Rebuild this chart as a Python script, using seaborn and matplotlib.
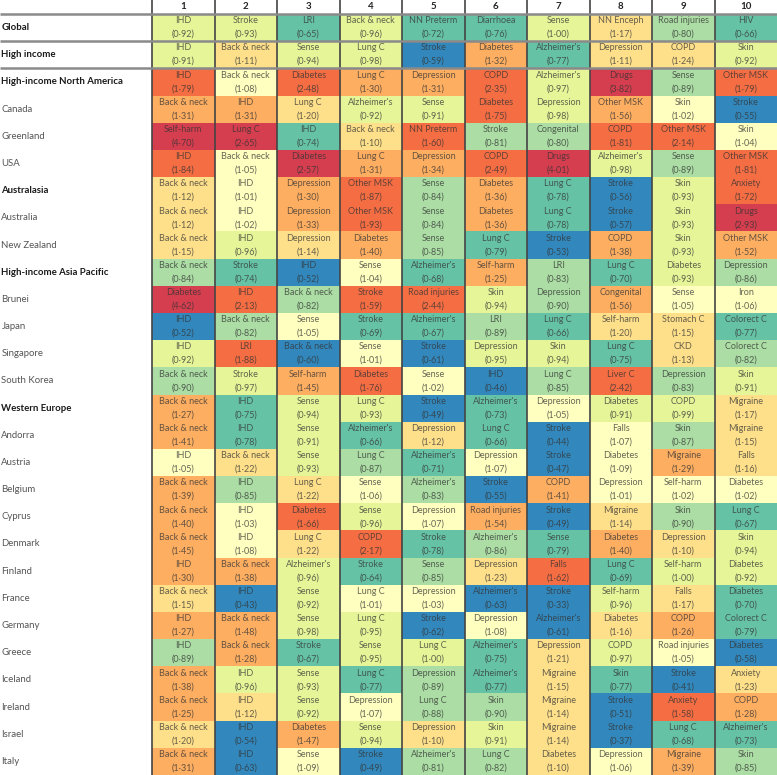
import numpy as np
import pandas as pd
import seaborn as sns
import matplotlib.pyplot as plt
from matplotlib.colors import ListedColormap, BoundaryNorm

locations = [
    "Global", "High income", "High-income North America", "Canada", "Greenland", "USA",
    "Australasia", "Australia", "New Zealand", "High-income Asia Pacific", "Brunei", "Japan",
    "Singapore", "South Korea", "Western Europe", "Andorra", "Austria", "Belgium", "Cyprus",
    "Denmark", "Finland", "France", "Germany", "Greece", "Iceland", "Ireland", "Israel", "Italy",
]
bold_rows = ["Global", "High income", "High-income North America", "Australasia",
             "High-income Asia Pacific", "Western Europe"]
ranks = [str(i) for i in range(1, 11)]

causes = [
    ["IHD", "Stroke", "LRI", "Back & neck", "NN Preterm", "Diarrhoea", "Sense", "NN Enceph", "Road injuries", "HIV"],
    ["IHD", "Back & neck", "Sense", "Lung C", "Stroke", "Diabetes", "Alzheimer's", "Depression", "COPD", "Skin"],
    ["IHD", "Back & neck", "Diabetes", "Lung C", "Depression", "COPD", "Alzheimer's", "Drugs", "Sense", "Other MSK"],
    ["Back & neck", "IHD", "Lung C", "Alzheimer's", "Sense", "Diabetes", "Depression", "Other MSK", "Skin", "Stroke"],
    ["Self-harm", "Lung C", "IHD", "Back & neck", "NN Preterm", "Stroke", "Congenital", "COPD", "Other MSK", "Skin"],
    ["IHD", "Back & neck", "Diabetes", "Lung C", "Depression", "COPD", "Drugs", "Alzheimer's", "Sense", "Other MSK"],
    ["Back & neck", "IHD", "Depression", "Other MSK", "Sense", "Diabetes", "Lung C", "Stroke", "Skin", "Anxiety"],
    ["Back & neck", "IHD", "Depression", "Other MSK", "Sense", "Diabetes", "Lung C", "Stroke", "Skin", "Drugs"],
    ["Back & neck", "IHD", "Depression", "Diabetes", "Sense", "Lung C", "Stroke", "COPD", "Skin", "Other MSK"],
    ["Back & neck", "Stroke", "IHD", "Sense", "Alzheimer's", "Self-harm", "LRI", "Lung C", "Diabetes", "Depression"],
    ["Diabetes", "IHD", "Back & neck", "Stroke", "Road injuries", "Skin", "Depression", "Congenital", "Sense", "Iron"],
    ["IHD", "Back & neck", "Sense", "Stroke", "Alzheimer's", "LRI", "Lung C", "Self-harm", "Stomach C", "Colorect C"],
    ["IHD", "LRI", "Back & neck", "Sense", "Stroke", "Depression", "Skin", "Lung C", "CKD", "Colorect C"],
    ["Back & neck", "Stroke", "Self-harm", "Diabetes", "Sense", "IHD", "Lung C", "Liver C", "Depression", "Skin"],
    ["Back & neck", "IHD", "Sense", "Lung C", "Stroke", "Alzheimer's", "Depression", "Diabetes", "COPD", "Migraine"],
    ["Back & neck", "IHD", "Sense", "Alzheimer's", "Depression", "Lung C", "Stroke", "Falls", "Skin", "Migraine"],
    ["IHD", "Back & neck", "Sense", "Lung C", "Alzheimer's", "Depression", "Stroke", "Diabetes", "Migraine", "Falls"],
    ["Back & neck", "IHD", "Lung C", "Sense", "Alzheimer's", "Stroke", "COPD", "Depression", "Self-harm", "Diabetes"],
    ["Back & neck", "IHD", "Diabetes", "Sense", "Depression", "Road injuries", "Stroke", "Migraine", "Skin", "Lung C"],
    ["Back & neck", "IHD", "Lung C", "COPD", "Stroke", "Alzheimer's", "Sense", "Diabetes", "Depression", "Skin"],
    ["IHD", "Back & neck", "Alzheimer's", "Stroke", "Sense", "Depression", "Falls", "Lung C", "Self-harm", "Diabetes"],
    ["Back & neck", "IHD", "Sense", "Lung C", "Depression", "Alzheimer's", "Stroke", "Self-harm", "Falls", "Diabetes"],
    ["IHD", "Back & neck", "Sense", "Lung C", "Stroke", "Depression", "Alzheimer's", "Diabetes", "COPD", "Colorect C"],
    ["IHD", "Back & neck", "Stroke", "Sense", "Lung C", "Alzheimer's", "Depression", "COPD", "Road injuries", "Diabetes"],
    ["Back & neck", "IHD", "Sense", "Lung C", "Depression", "Alzheimer's", "Migraine", "Skin", "Stroke", "Anxiety"],
    ["Back & neck", "IHD", "Sense", "Depression", "Lung C", "Skin", "Migraine", "Stroke", "Anxiety", "COPD"],
    ["Back & neck", "IHD", "Diabetes", "Sense", "Depression", "Skin", "Migraine", "Stroke", "Lung C", "Alzheimer's"],
    ["Back & neck", "IHD", "Sense", "Stroke", "Alzheimer's", "Lung C", "Diabetes", "Depression", "Migraine", "Skin"],
]

ratios = [
    [0.92, 0.93, 0.65, 0.96, 0.72, 0.76, 1.00, 1.17, 0.80, 0.66],
    [0.91, 1.11, 0.94, 0.98, 0.59, 1.32, 0.77, 1.11, 1.24, 0.92],
    [1.79, 1.08, 2.48, 1.30, 1.31, 2.35, 0.97, 3.82, 0.89, 1.79],
    [1.31, 1.31, 1.20, 0.92, 0.91, 1.75, 0.98, 1.56, 1.02, 0.55],
    [4.70, 2.65, 0.74, 1.10, 1.60, 0.81, 0.80, 1.81, 2.14, 1.04],
    [1.84, 1.05, 2.57, 1.31, 1.34, 2.49, 4.01, 0.98, 0.89, 1.81],
    [1.12, 1.01, 1.30, 1.87, 0.84, 1.36, 0.78, 0.56, 0.93, 1.72],
    [1.12, 1.02, 1.33, 1.93, 0.84, 1.36, 0.78, 0.57, 0.93, 2.93],
    [1.15, 0.96, 1.14, 1.40, 0.85, 0.79, 0.53, 1.38, 0.93, 1.52],
    [0.84, 0.74, 0.52, 1.04, 0.68, 1.25, 0.83, 0.70, 0.93, 0.86],
    [4.62, 2.13, 0.82, 1.59, 2.44, 0.94, 0.90, 1.56, 1.05, 1.06],
    [0.52, 0.82, 1.05, 0.69, 0.67, 0.89, 0.66, 1.20, 1.15, 0.77],
    [0.92, 1.88, 0.60, 1.01, 0.61, 0.95, 0.94, 0.75, 1.13, 0.82],
    [0.90, 0.97, 1.45, 1.76, 1.02, 0.46, 0.85, 2.42, 0.83, 0.91],
    [1.27, 0.75, 0.94, 0.93, 0.49, 0.73, 1.05, 0.91, 0.99, 1.17],
    [1.41, 0.78, 0.91, 0.66, 1.12, 0.66, 0.44, 1.07, 0.87, 1.15],
    [1.05, 1.22, 0.93, 0.87, 0.71, 1.07, 0.47, 1.09, 1.29, 1.16],
    [1.39, 0.85, 1.22, 1.06, 0.83, 0.55, 1.41, 1.01, 1.02, 1.02],
    [1.40, 1.03, 1.66, 0.96, 1.07, 1.54, 0.49, 1.14, 0.90, 0.67],
    [1.45, 1.08, 1.22, 2.17, 0.78, 0.86, 0.79, 1.40, 1.10, 0.94],
    [1.30, 1.38, 0.96, 0.64, 0.85, 1.23, 1.62, 0.69, 1.00, 0.92],
    [1.15, 0.43, 0.92, 1.01, 1.03, 0.63, 0.33, 0.96, 1.17, 0.70],
    [1.27, 1.48, 0.98, 0.95, 0.62, 1.08, 0.61, 1.16, 1.26, 0.79],
    [0.89, 1.28, 0.67, 0.95, 1.00, 0.75, 1.21, 0.97, 1.05, 0.58],
    [1.38, 0.96, 0.93, 0.77, 0.89, 0.77, 1.15, 0.77, 0.41, 1.23],
    [1.25, 1.12, 0.92, 1.07, 0.88, 0.90, 1.14, 0.51, 1.58, 1.28],
    [1.20, 0.54, 1.47, 0.94, 1.10, 0.91, 1.14, 0.37, 0.68, 0.73],
    [1.31, 0.63, 1.09, 0.49, 0.81, 0.82, 1.10, 1.06, 1.39, 0.85],
]

# binned ratio colours (observed/expected)
bin_edges = [0, 0.635, 0.795, 0.905, 1.005, 1.095, 1.245, 1.57, 2.5, 10]
bin_colors = ["#3288bd", "#66c2a5", "#abdda4", "#e6f598", "#ffffbf",
              "#fee08b", "#fdae61", "#f46d43", "#d53e4f"]

plt.rcParams["font.family"] = ["Lato", "DejaVu Sans"]

df = pd.DataFrame(ratios, index=locations, columns=ranks)
labels = np.array([[f"{c}\n({v:.2f})".replace(".", "·") for c, v in zip(crow, vrow)]
                   for crow, vrow in zip(causes, ratios)])

cmap = ListedColormap(bin_colors)
norm = BoundaryNorm(bin_edges, cmap.N)

fig = plt.figure(figsize=(7.77, 7.75), dpi=100)
ax = fig.add_axes([152 / 777, 0, 625 / 777, 761 / 775])
sns.heatmap(df, ax=ax, cmap=cmap, norm=norm, cbar=False, annot=labels, fmt="",
            annot_kws={"fontsize": 6.5, "color": "#333333", "alpha": 0.75, "linespacing": 1.65})

# column header
ax.xaxis.tick_top()
ax.set_xticklabels(ranks, rotation=0, fontsize=7, fontweight="bold", color="#222222")
ax.tick_params(axis="x", length=0, pad=2)

# row labels, left aligned at the figure edge
ax.set_yticklabels(locations, rotation=0, fontsize=6.9)
ax.tick_params(axis="y", length=0, pad=152 * 0.72 - 1)
for lab in ax.get_yticklabels():
    lab.set_ha("left")
    if lab.get_text() in bold_rows:
        lab.set_fontweight("bold")
        lab.set_color("#1a1a1a")
    else:
        lab.set_color("#555555")
ax.set_xlabel("")
ax.set_ylabel("")

# separators
ax.vlines(range(10), -0.52, len(locations), colors="#444444", lw=1.2, clip_on=False)
for y in [0, 1, 2]:
    ax.hlines(y, -152 / 62.5, 10, colors="#8a8a8a", lw=1.8, clip_on=False)

fig.savefig("out.png", dpi=100)
